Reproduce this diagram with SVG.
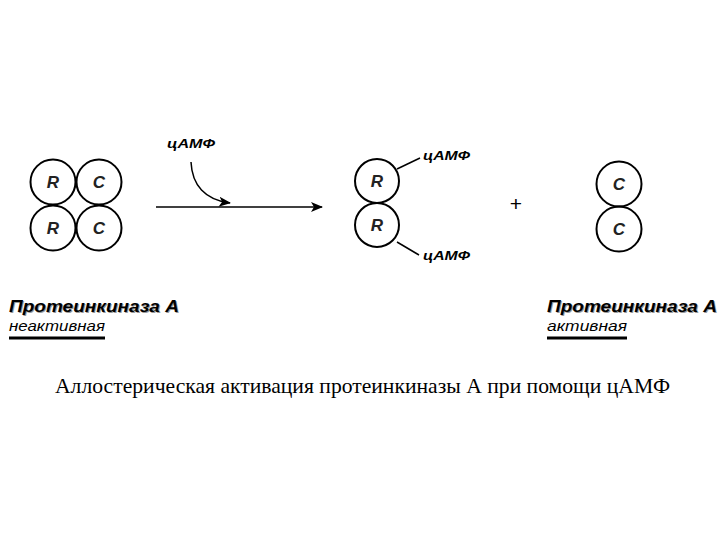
<svg xmlns="http://www.w3.org/2000/svg" width="720" height="540" viewBox="0 0 720 540">
<defs>
<style>
.c{fill:none;stroke:#000;stroke-width:2}
.l{font-family:"Liberation Sans",Arial,sans-serif;font-weight:bold;font-style:italic;font-size:17px;text-anchor:middle;fill:#222}
.s{font-family:"Liberation Sans",Arial,sans-serif;font-weight:bold;font-style:italic;font-size:13px;fill:#000}
.t{font-family:"Liberation Sans",Arial,sans-serif;font-weight:bold;font-style:italic;font-size:17px;fill:#000}
.sh{fill:#999}
.i{font-family:"Liberation Sans",Arial,sans-serif;font-style:italic;font-size:15px;fill:#000}
.ln{stroke:#000;stroke-width:1.5;fill:none}
</style>
<marker id="ah" viewBox="0 0 12 10" refX="11" refY="5" markerWidth="12" markerHeight="10" markerUnits="userSpaceOnUse" orient="auto">
<path d="M0,0 L12,5 L0,10 L3,5 Z" fill="#000"/>
</marker>
</defs>
<rect width="720" height="540" fill="#fff"/>
<g id="inactive">
<circle class="c" cx="53" cy="182" r="22.5"/>
<circle class="c" cx="99" cy="182" r="22.5"/>
<circle class="c" cx="53" cy="228" r="22.5"/>
<circle class="c" cx="99" cy="228" r="22.5"/>
<text class="l" x="53" y="188">R</text>
<text class="l" x="99" y="188">C</text>
<text class="l" x="53" y="234">R</text>
<text class="l" x="99" y="234">C</text>
</g>
<g id="camp-in"><text class="s" x="167" y="148" textLength="48" lengthAdjust="spacingAndGlyphs">цАМФ</text></g>
<g id="regulatory">
<circle class="c" cx="377" cy="181" r="22"/>
<circle class="c" cx="377" cy="225" r="22"/>
<text class="l" x="377" y="187">R</text>
<text class="l" x="377" y="231">R</text>
</g>
<g id="camp-top"><text class="s" x="423" y="160" textLength="47" lengthAdjust="spacingAndGlyphs">цАМФ</text></g>
<g id="camp-bottom"><text class="s" x="423" y="260" textLength="47" lengthAdjust="spacingAndGlyphs">цАМФ</text></g>
<g id="plus"><text x="516" y="211" font-family="Liberation Sans,Arial,sans-serif" font-size="21" text-anchor="middle">+</text></g>
<g id="catalytic">
<circle class="c" cx="619" cy="184" r="22.5"/>
<circle class="c" cx="619" cy="229" r="22.5"/>
<text class="l" x="619" y="190">C</text>
<text class="l" x="619" y="235">C</text>
</g>
<g id="connectors">
<line class="ln" x1="156" y1="207" x2="322" y2="207" stroke-width="2" marker-end="url(#ah)"/>
<path class="ln" d="M191,162 C192,185 205,200 230,203" stroke-width="2" marker-end="url(#ah)"/>
<line class="ln" x1="397" y1="169" x2="420" y2="158"/>
<line class="ln" x1="397" y1="242" x2="419" y2="255"/>
</g>
<g id="label-inactive">
<text class="t sh" x="10" y="313" textLength="170" lengthAdjust="spacingAndGlyphs">Протеинкиназа А</text>
<text class="t" x="9" y="312" textLength="170" lengthAdjust="spacingAndGlyphs">Протеинкиназа А</text>
<text class="i" x="9" y="331" textLength="96" lengthAdjust="spacingAndGlyphs">неактивная</text>
<line x1="9" y1="338" x2="105" y2="338" stroke="#000" stroke-width="3"/>
</g>
<g id="label-active">
<text class="t sh" x="548" y="313" textLength="170" lengthAdjust="spacingAndGlyphs">Протеинкиназа А</text>
<text class="t" x="547" y="312" textLength="170" lengthAdjust="spacingAndGlyphs">Протеинкиназа А</text>
<text class="i" x="547" y="331" textLength="80" lengthAdjust="spacingAndGlyphs">активная</text>
<line x1="547" y1="338" x2="627" y2="338" stroke="#000" stroke-width="3"/>
</g>
<g id="caption">
<text x="55" y="393" font-family="Liberation Serif,Times New Roman,serif" font-size="21" textLength="615" lengthAdjust="spacingAndGlyphs">Аллостерическая активация протеинкиназы А при помощи цАМФ</text>
</g>
</svg>
